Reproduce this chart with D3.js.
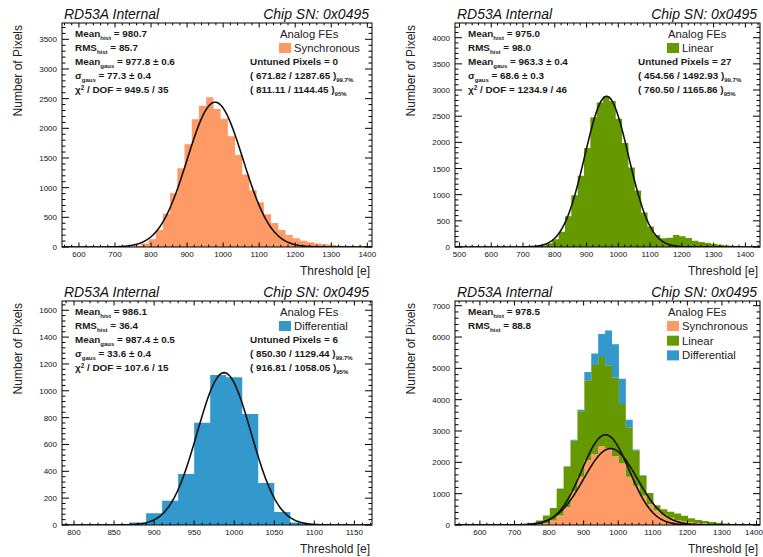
<!DOCTYPE html>
<html lang="en">
<head>
<meta charset="UTF-8">
<title>RD53A threshold distributions</title>
<style>
  body { margin: 0; background: #fff; }
  svg { display: block; font-family: 'Liberation Sans', Arial, sans-serif; }
  .tick-label { font-size: 8px; fill: #111; }
  .title { font-size: 14px; font-style: italic; fill: #111; }
  .axis-title { font-size: 12px; fill: #222; }
  .stat { font-size: 9.9px; font-weight: bold; fill: #1a1a1a; }
  .legend { font-size: 11.3px; fill: #222; }
</style>
</head>
<body>
<svg width="763" height="557"></svg>
<script src="https://cdn.jsdelivr.net/npm/d3@7"></script>
<script>
// ---- data (bins are 20 e wide) ----
var binWidth = 20

var syncFirstEdge = 553
var syncCounts = [0, 0, 1, 1, 2, 2, 3, 4, 6, 10, 22, 60, 130, 286, 560, 905, 1326, 1730, 2151, 2380,
  2522, 2326, 2160, 1865, 1550, 1220, 955, 753, 550, 405, 286, 202, 146, 107, 79, 60, 45, 32, 22, 15,
  10, 6, 4]

var linFirstEdge = 492
var linCounts = [0, 0, 0, 0, 1, 1, 2, 2, 3, 4, 5, 8, 14, 30, 70, 150, 290, 590, 990, 1360,
  1890, 2480, 2760, 2880, 2790, 2450, 1990, 1520, 1080, 660, 390, 230, 165, 175, 230, 205, 170, 120, 95, 75,
  58, 42, 28, 18, 12, 8, 5, 3]

var diffFirstEdge = 790
var diffCounts = [3, 4, 6, 8, 18, 87, 181, 380, 762, 1118, 1100, 827, 313, 97, 18, 5, 2, 1, 0]

// stacked plot (all front ends), common binning
var allFirstEdge = 522
var allSync = [0, 0, 0, 1, 1, 2, 2, 3, 4, 5, 6, 12, 25, 60, 140, 300, 570, 1080, 1540, 2070,
  2260, 2510, 2460, 2200, 1960, 1540, 1250, 930, 660, 470, 330, 230, 160, 115, 85, 62, 46, 33, 23, 16,
  11, 7, 5, 3, 2]
var allLin = [0, 0, 1, 1, 2, 2, 3, 4, 5, 8, 15, 35, 120, 240, 400, 860, 1300, 1610, 2090, 2550,
  2850, 2850, 2640, 2510, 1900, 1580, 1130, 650, 360, 160, 170, 190, 210, 180, 130, 100, 80, 60, 45, 30,
  20, 14, 9, 6, 4]
var allDiff = [0, 0, 0, 0, 0, 0, 0, 0, 0, 1, 1, 2, 2, 2, 3, 4, 8, 28, 52, 260,
  361, 734, 1105, 1062, 808, 243, 29, 8, 3, 1, 0, 0, 0, 0, 0, 0, 0, 0, 0, 0,
  0, 0, 0, 0, 0]

// gaussian fits: synchronous, linear, differential
var fitMean = [977.8, 963.3, 987.4]
var fitMeanErr = [0.6, 0.4, 0.5]
var fitSigma = [77.3, 68.6, 33.6]
var fitSigmaErr = [0.4, 0.3, 0.4]
var fitAmp = [2440, 2880, 1135]
var chi2 = [949.5, 1234.9, 107.6]
var ndof = [35, 46, 15]

var meanHist = [980.7, 975.0, 986.1, 978.5]
var rmsHist = [85.7, 98.0, 36.4, 88.8]
var untuned = [0, 27, 6]
var range997 = [[671.82, 1287.65], [454.56, 1492.93], [850.30, 1129.44]]
var range95 = [[811.11, 1144.45], [760.50, 1165.86], [916.81, 1058.05]]

var feNames = ['Synchronous', 'Linear', 'Differential']
var feColors = ['#ff9966', '#669900', '#3399cc']

var xTicksSync = [600, 700, 800, 900, 1000, 1100, 1200, 1300, 1400]
var yTicksSync = [0, 500, 1000, 1500, 2000, 2500, 3000, 3500]
var xTicksLin = [500, 600, 700, 800, 900, 1000, 1100, 1200, 1300, 1400]
var yTicksLin = [0, 500, 1000, 1500, 2000, 2500, 3000, 3500, 4000]
var xTicksDiff = [800, 850, 900, 950, 1000, 1050, 1100, 1150]
var yTicksDiff = [0, 200, 400, 600, 800, 1000, 1200, 1400, 1600]
var xTicksAll = [600, 700, 800, 900, 1000, 1100, 1200, 1300, 1400]
var yTicksAll = [0, 1000, 2000, 3000, 4000, 5000, 6000, 7000]

// ---- layout ----
var W = 763
var panels = [
  { x0: 62, x1: 372, y0: 23, y1: 247, xDom: [553, 1413], yMax: 3775, xTicks: xTicksSync, xMinor: 20,
    yTicks: yTicksSync, yMinor: 100, fe: 0 },
  { x0: 455, x1: 760, y0: 23, y1: 247, xDom: [486, 1446], yMax: 4281, xTicks: xTicksLin, xMinor: 20,
    yTicks: yTicksLin, yMinor: 100, fe: 1 },
  { x0: 62, x1: 372, y0: 301, y1: 525, xDom: [785, 1172], yMax: 1669, xTicks: xTicksDiff, xMinor: 10,
    yTicks: yTicksDiff, yMinor: 40, fe: 2 },
  { x0: 455, x1: 760, y0: 301, y1: 525, xDom: [528, 1410], yMax: 7150, xTicks: xTicksAll, xMinor: 20,
    yTicks: yTicksAll, yMinor: 200, fe: -1 }
]

var histData = [
  [syncFirstEdge, syncCounts],
  [linFirstEdge, linCounts],
  [diffFirstEdge, diffCounts]
]

var svg = d3.select('svg')

// step points: one per bin edge, last edge repeats the last value
function stepPoints(first, counts) {
  var pts = counts.map(function(c, i) { return { e: first + i * binWidth, v: c } })
  pts.push({ e: first + counts.length * binWidth, v: counts[counts.length - 1] })
  return pts
}

function gaussPoints(k, dom) {
  return d3.range(dom[0], dom[1] + 1, 2).map(function(t) {
    var d = t - fitMean[k]
    return { e: t, v: fitAmp[k] * Math.exp(-d * d / (2 * fitSigma[k] * fitSigma[k])) }
  })
}

// text made of pieces: plain, subscript, superscript
function richText(g, x, y, parts, cls) {
  var t = g.append('text').attr('class', cls).attr('x', x).attr('y', y)
  var shift = 0
  parts.forEach(function(p) {
    var s = t.append('tspan').text(p[0])
    var want = p[1] === 'sub' ? 2.8 : p[1] === 'sup' ? -3.4 : 0
    if (want !== shift) { s.attr('dy', want - shift); shift = want }
    if (p[1]) s.attr('font-size', p[1] === 'sup' ? 6.4 : 6)
  })
  return t
}

panels.forEach(function(p, pi) {
  var g = svg.append('g')
  var x = d3.scaleLinear().domain(p.xDom).range([p.x0, p.x1])
  var y = d3.scaleLinear().domain([0, p.yMax]).range([p.y1, p.y0])

  var clipId = 'clip' + pi
  svg.append('clipPath').attr('id', clipId).append('rect')
    .attr('x', p.x0).attr('y', p.y0).attr('width', p.x1 - p.x0).attr('height', p.y1 - p.y0)
  var plot = g.append('g').attr('clip-path', 'url(#' + clipId + ')')

  var line = d3.line().x(function(d) { return x(d.e) }).y(function(d) { return y(d.v) })

  if (p.fe >= 0) {
    var h = histData[p.fe]
    var area = d3.area().curve(d3.curveStepAfter)
      .x(function(d) { return x(d.e) }).y0(y(0)).y1(function(d) { return y(d.v) })
    plot.append('path').datum(stepPoints(h[0], h[1]))
      .attr('d', area).attr('fill', feColors[p.fe])
    plot.append('path').datum(gaussPoints(p.fe, p.xDom))
      .attr('d', line).attr('fill', 'none').attr('stroke', '#111').attr('stroke-width', 1.6)
  } else {
    var rows = allSync.map(function(v, i) {
      return { e: allFirstEdge + i * binWidth, sync: v, lin: allLin[i], diff: allDiff[i] }
    })
    var last = rows[rows.length - 1]
    rows.push({ e: last.e + binWidth, sync: last.sync, lin: last.lin, diff: last.diff })
    var layers = d3.stack().keys(['sync', 'lin', 'diff'])(rows)
    var sArea = d3.area().curve(d3.curveStepAfter)
      .x(function(d) { return x(d.data.e) })
      .y0(function(d) { return y(d[0]) }).y1(function(d) { return y(d[1]) })
    plot.selectAll('.layer').data(layers).join('path')
      .attr('class', 'layer').attr('d', sArea)
      .attr('fill', function(d, i) { return feColors[i] })
    ;[0, 1].forEach(function(k) {
      plot.append('path').datum(gaussPoints(k, p.xDom))
        .attr('d', line).attr('fill', 'none').attr('stroke', '#111').attr('stroke-width', 1.6)
    })
  }

  // frame and inward ticks on all four sides
  g.append('rect').attr('x', p.x0).attr('y', p.y0).attr('width', p.x1 - p.x0).attr('height', p.y1 - p.y0)
    .attr('fill', 'none').attr('stroke', '#000').attr('stroke-width', 1)
  var tk = g.append('g').attr('stroke', '#000').attr('stroke-width', 1)
  var xMin = d3.range(Math.ceil(p.xDom[0] / p.xMinor) * p.xMinor, p.xDom[1], p.xMinor)
  xMin.forEach(function(v) {
    var major = p.xTicks.indexOf(v) >= 0 ? 4.5 : 2.3
    tk.append('line').attr('x1', x(v)).attr('x2', x(v)).attr('y1', p.y1).attr('y2', p.y1 - major)
    tk.append('line').attr('x1', x(v)).attr('x2', x(v)).attr('y1', p.y0).attr('y2', p.y0 + major)
  })
  var yMin = d3.range(0, p.yMax, p.yMinor)
  yMin.forEach(function(v) {
    var major = p.yTicks.indexOf(v) >= 0 ? 7 : 3.5
    tk.append('line').attr('x1', p.x0).attr('x2', p.x0 + major).attr('y1', y(v)).attr('y2', y(v))
    tk.append('line').attr('x1', p.x1).attr('x2', p.x1 - major).attr('y1', y(v)).attr('y2', y(v))
  })

  // x labels centred on ticks, but kept inside the page at the right edge
  g.selectAll('.xl').data(p.xTicks).join('text').attr('class', 'tick-label')
    .attr('x', function(d) { return Math.min(x(d), W - 9) }).attr('y', p.y1 + 9.5)
    .attr('text-anchor', 'middle').text(function(d) { return d })
  g.selectAll('.yl').data(p.yTicks).join('text').attr('class', 'tick-label')
    .attr('x', p.x0 - 5).attr('y', function(d) { return y(d) + 3 })
    .attr('text-anchor', 'end').text(function(d) { return d })

  // titles
  g.append('text').attr('class', 'title').attr('x', p.x0 + 2).attr('y', p.y0 - 4).text('RD53A Internal')
  g.append('text').attr('class', 'title').attr('x', p.x1 - 3).attr('y', p.y0 - 4)
    .attr('text-anchor', 'end').text('Chip SN: 0x0495')
  g.append('text').attr('class', 'axis-title')
    .attr('transform', 'translate(' + (p.x0 - 40) + ',' + (p.y0 + 2) + ') rotate(-90)')
    .attr('text-anchor', 'end').text('Number of Pixels')
  g.append('text').attr('class', 'axis-title').attr('x', p.x1 - 2).attr('y', p.y1 + 28)
    .attr('text-anchor', 'end').text('Threshold [e]')

  // stats box
  var sx = p.x0 + 13
  var row = function(i) { return p.y0 + 14.3 + i * 13.9 }
  var k = p.fe
  var mIdx = k >= 0 ? k : 3
  richText(g, sx, row(0), [['Mean'], ['hist', 'sub'], [' = ' + meanHist[mIdx].toFixed(1)]], 'stat')
  richText(g, sx, row(1), [['RMS'], ['hist', 'sub'], [' = ' + rmsHist[mIdx].toFixed(1)]], 'stat')
  if (k >= 0) {
    richText(g, sx, row(2), [['Mean'], ['gaus', 'sub'],
      [' = ' + fitMean[k].toFixed(1) + '  \u00b1 ' + fitMeanErr[k].toFixed(1)]], 'stat')
    richText(g, sx, row(3), [['\u03c3'], ['gaus', 'sub'],
      [' = ' + fitSigma[k].toFixed(1) + '  \u00b1 ' + fitSigmaErr[k].toFixed(1)]], 'stat')
    richText(g, sx, row(4), [['\u03c7'], ['2', 'sup'],
      [' / DOF = ' + chi2[k].toFixed(1) + ' / ' + ndof[k]]], 'stat')

    var rx = p.x1 - 122
    richText(g, rx, row(2), [['Untuned Pixels = ' + untuned[k]]], 'stat')
    richText(g, rx, row(3), [['( ' + range997[k][0].toFixed(2) + ' / ' + range997[k][1].toFixed(2) + ' )'],
      ['99.7%', 'sub']], 'stat')
    richText(g, rx, row(4), [['( ' + range95[k][0].toFixed(2) + ' / ' + range95[k][1].toFixed(2) + ' )'],
      ['95%', 'sub']], 'stat')
  }

  // legend
  var lx = p.x1 - 92
  g.append('text').attr('class', 'legend').attr('x', lx).attr('y', p.y0 + 14.5).text('Analog FEs')
  var entries = k >= 0 ? [k] : [0, 1, 2]
  entries.forEach(function(e, i) {
    var cy = p.y0 + 25 + i * 14.7
    g.append('rect').attr('x', p.x1 - 93).attr('y', cy - 5).attr('width', 12).attr('height', 10)
      .attr('fill', feColors[e])
    g.append('text').attr('class', 'legend').attr('x', p.x1 - 78).attr('y', cy + 4).text(feNames[e])
  })
})
</script>
</body>
</html>
